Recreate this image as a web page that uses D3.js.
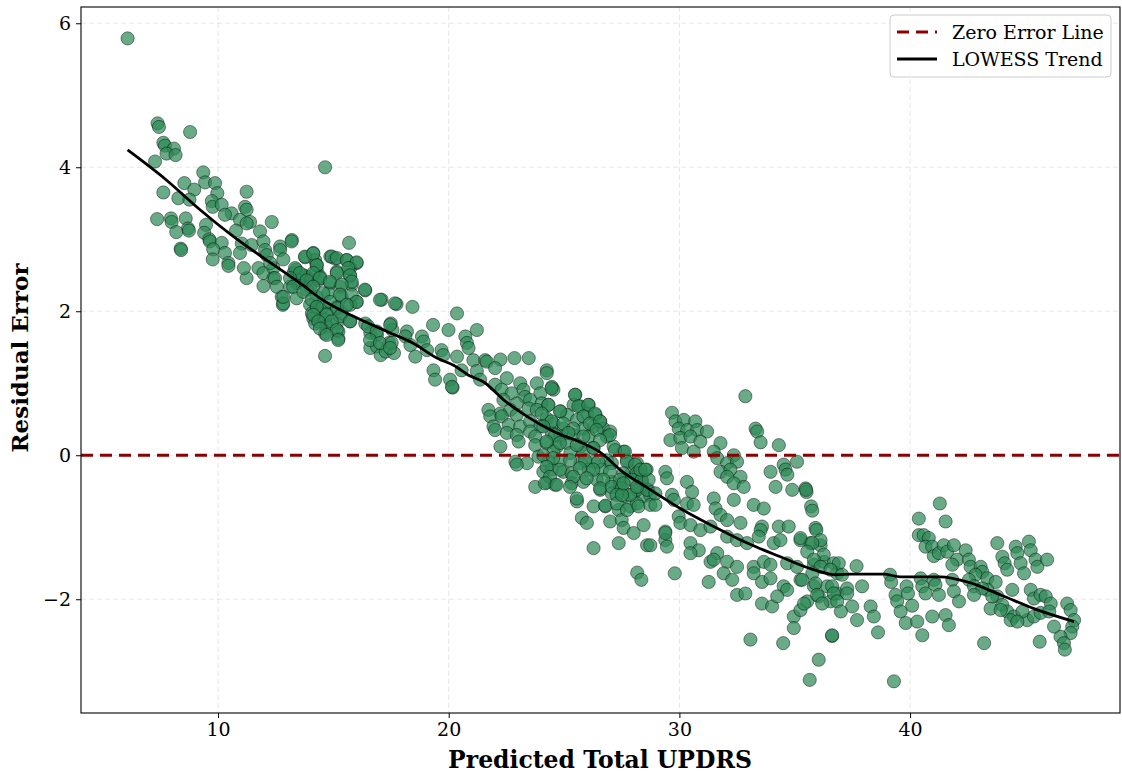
<!DOCTYPE html>
<html><head><meta charset="utf-8">
<script src="https://cdn.jsdelivr.net/npm/d3@7"></script>
<style>body{margin:0;background:#fff}svg{display:block}</style>
</head><body><svg id="c" width="1122" height="776"></svg>
<script>
const xTicks = [10, 20, 30, 40];
const yTicks = [-2, 0, 2, 4, 6];
const xLabel = "Predicted Total UPDRS";
const yLabel = "Residual Error";
const legendLabels = ["Zero Error Line", "LOWESS Trend"];

// [predicted, residual]
const points = [
[6.08,5.79],[7.38,4.61],[7.44,4.56],[8.79,4.49],[7.63,4.34],[7.70,4.30],[8.09,4.26],[7.77,4.19],[8.16,4.17],[7.27,4.08],[9.36,3.93],[9.44,3.79],[8.54,3.78],[9.87,3.78],[8.97,3.69],[7.63,3.65],[11.24,3.66],[8.28,3.57],[8.76,3.55],[9.97,3.64],[9.73,3.53],[9.77,3.45],[10.16,3.48],[11.17,3.45],[11.24,3.41],[10.59,3.36],[10.30,3.34],[10.95,3.27],[11.39,3.24],[12.33,3.24],[7.36,3.28],[7.96,3.29],[7.99,3.24],[8.60,3.29],[8.70,3.15],[8.74,3.12],[8.19,3.10],[9.48,3.20],[9.40,3.09],[10.78,3.12],[11.24,3.22],[11.82,3.11],[13.20,2.99],[9.62,3.00],[9.65,2.97],[10.16,2.95],[8.38,2.87],[8.40,2.85],[9.79,2.86],[9.77,2.72],[10.30,2.81],[10.45,2.67],[10.45,2.63],[11.03,2.94],[10.95,2.81],[11.46,2.92],[11.97,2.97],[12.04,2.85],[12.11,2.78],[12.69,2.90],[12.69,2.85],[12.83,2.72],[13.78,2.75],[11.24,2.46],[11.12,2.60],[11.75,2.60],[11.97,2.53],[11.97,2.35],[12.40,2.60],[12.40,2.46],[12.76,2.20],[12.81,2.09],[13.27,2.53],[13.41,2.39],[13.56,2.48],[13.85,2.48],[14.13,2.81],[14.21,2.71],[14.28,2.57],[13.99,2.34],[13.85,2.30],[14.28,2.06],[14.35,2.43],
[14.64,4.00],[15.68,2.95],[14.87,2.76],[15.08,2.73],[15.58,2.71],[16.01,2.67],[12.26,2.67],[14.28,2.64],[15.73,2.60],[13.38,2.58],[15.15,2.55],[13.70,2.50],[14.43,2.48],[15.73,2.49],[12.47,2.46],[13.48,2.43],[14.86,2.39],[15.80,2.37],[12.55,2.34],[13.12,2.34],[15.30,2.34],[16.38,2.29],[13.41,2.18],[14.28,2.20],[14.78,2.25],[15.36,2.20],[16.01,2.13],[12.83,2.11],[13.99,2.09],[14.57,2.06],[15.15,2.06],[15.73,2.09],[14.07,1.97],[14.70,1.97],[15.36,1.97],[14.13,1.90],[14.64,1.88],[15.73,1.86],[14.21,1.83],[15.15,1.83],[14.70,1.79],[14.64,1.69],[15.22,1.72],[15.22,1.62],[14.64,1.38],[17.09,2.16],[17.74,2.10],[18.43,2.06],[16.38,1.83],[16.60,1.70],[16.89,1.67],[17.49,1.83],[17.56,1.74],[17.41,1.56],[16.60,1.49],[16.89,1.51],[17.05,1.39],[17.27,1.44],[17.63,1.42],[18.19,1.72],[18.12,1.65],[18.34,1.53],[18.55,1.37],[18.84,1.65],[18.91,1.58],[19.06,1.46],[19.32,1.81],[19.99,1.74],[20.36,1.97],[20.72,1.65],[20.79,1.56],[21.22,1.74],[19.69,1.46],[19.76,1.39],[20.36,1.37],[19.34,1.18],[19.41,1.05],[20.06,1.05],[20.17,0.94],[20.56,1.18],[21.07,1.32],[21.22,1.17],[21.36,1.05],[21.58,1.32],
[13.19,2.97],[13.77,2.76],[14.13,2.80],[14.93,2.76],[15.15,2.74],[15.58,2.71],[16.01,2.68],[13.34,2.60],[14.28,2.64],[15.65,2.60],[13.55,2.53],[14.13,2.53],[15.15,2.53],[15.72,2.50],[13.12,2.46],[13.84,2.43],[14.42,2.46],[14.85,2.41],[15.80,2.41],[13.26,2.34],[14.13,2.34],[15.36,2.37],[16.37,2.30],[13.70,2.27],[14.56,2.25],[15.29,2.23],[15.80,2.23],[12.83,2.20],[14.06,2.16],[14.85,2.13],[16.01,2.13],[17.02,2.16],[17.67,2.11],[14.28,2.06],[15.15,2.04],[15.58,2.09],[14.13,1.95],[14.71,1.95],[15.29,1.93],[14.35,1.86],[14.93,1.86],[15.72,1.86],[14.42,1.76],[15.15,1.74],[14.71,1.67],[15.21,1.60],[16.51,1.79],[16.88,1.72],[17.46,1.81],[16.59,1.60],[17.02,1.56],[17.53,1.56],[17.46,1.49],
[20.86,1.49],[21.65,1.30],[22.24,1.33],[22.85,1.35],[23.47,1.35],[22.01,1.21],[24.25,1.18],[24.25,1.14],[20.14,0.95],[22.52,1.07],[22.01,0.98],[23.10,1.00],[23.82,1.00],[24.47,0.95],[24.54,0.91],[22.30,0.91],[22.73,0.86],[23.24,0.91],[23.31,0.81],[23.97,0.86],[25.49,0.84],[22.37,0.77],[22.95,0.72],[23.53,0.77],[24.03,0.72],[24.32,0.70],[25.41,0.70],[25.71,0.68],[26.07,0.70],[21.72,0.63],[22.24,0.58],[22.67,0.63],[23.47,0.65],[23.82,0.63],[24.85,0.61],[25.14,0.56],[26.0,0.58],[26.37,0.56],[21.80,0.54],[22.30,0.54],[22.95,0.56],[24.25,0.51],[25.56,0.49],[26.57,0.47],[21.94,0.40],[22.60,0.42],[23.10,0.40],[23.53,0.47],[23.97,0.40],[24.54,0.44],[24.97,0.37],[25.84,0.37],[26.28,0.40],[26.71,0.37],[27.0,0.33],[22.01,0.35],[22.52,0.31],[22.95,0.28],[23.53,0.33],[23.75,0.26],[24.47,0.31],[24.84,0.26],[25.41,0.28],[26.07,0.26],[26.86,0.26],[23.03,0.19],[22.24,0.12],[23.75,0.14],[24.25,0.17],[24.69,0.12],[25.12,0.17],[25.71,0.12],[26.28,0.10],[27.15,0.12],[27.58,0.05],[24.54,0.05],[25.27,0.03],[25.84,0.03],[22.89,-0.09],[23.39,-0.11],[22.95,-0.13],[23.89,-0.02],[24.32,-0.09],[24.84,-0.07],[25.71,-0.11],[26.28,-0.09],[26.86,-0.07],[27.73,-0.07],[28.16,-0.11],[24.10,-0.23],[24.47,-0.20],[24.97,-0.23],[25.33,-0.25],[26.07,-0.20],[26.64,-0.20],[27.94,-0.23],[28.23,-0.25],[23.75,-0.44],[24.25,-0.38],[24.61,-0.41],[25.33,-0.39],[25.84,-0.37],[26.42,-0.34],[27.07,-0.37],[27.43,-0.41],[28.38,-0.37],[26.57,-0.48],[27.07,-0.53],[27.58,-0.57],[28.02,-0.53],[28.45,-0.57],[25.56,-0.64],[26.28,-0.71],[26.79,-0.71],[27.37,-0.76],[27.87,-0.71],[28.16,-0.67],[25.77,-0.87],[25.99,-0.94],[27.0,-0.92],[27.50,-0.90],[27.58,-1.01],[28.02,-1.08],[28.45,-0.97],[27.37,-1.22],[26.28,-1.29],[28.60,-1.25],
[24.46,0.93],[25.47,0.84],[24.32,0.70],[24.82,0.61],[25.62,0.68],[26.05,0.70],[24.03,0.58],[25.84,0.54],[26.34,0.58],[24.46,0.47],[24.97,0.44],[26.12,0.44],[26.56,0.47],[24.10,0.40],[25.40,0.37],[26.41,0.35],[26.99,0.28],[24.61,0.28],[25.19,0.31],[25.84,0.26],[26.56,0.21],[24.24,0.19],[24.82,0.17],[25.55,0.14],[26.27,0.10],[27.21,0.07],[27.64,0.05],[24.10,0.00],[24.53,-0.04],[25.26,-0.07],[25.91,-0.07],[26.48,-0.09],[27.07,-0.11],[27.72,-0.09],[28.08,-0.13],[24.24,-0.16],[24.82,-0.20],[25.69,-0.18],[26.27,-0.20],[26.99,-0.23],[27.57,-0.25],[28.15,-0.25],[28.58,-0.20],[24.39,-0.30],[25.40,-0.30],[25.98,-0.32],[26.70,-0.34],[27.43,-0.34],[27.93,-0.34],[28.37,-0.34],[24.17,-0.39],[24.68,-0.41],[25.26,-0.44],[26.56,-0.46],[27.07,-0.44],[27.50,-0.46],[28.15,-0.48],[28.65,-0.48],[27.28,-0.55],[27.86,-0.55],[25.55,-0.60],[28.73,-0.55],
[32.86,0.82],[29.68,0.59],[29.83,0.47],[30.19,0.49],[30.69,0.47],[29.97,0.37],[30.34,0.35],[30.77,0.35],[31.20,0.33],[33.30,0.37],[33.37,0.33],[29.61,0.21],[30.04,0.24],[30.48,0.26],[30.91,0.19],[31.78,0.17],[33.52,0.18],[34.31,0.14],[30.11,0.10],[30.62,0.05],[31.49,0.05],[32.36,0.00],[31.64,-0.04],[32.07,-0.11],[32.50,-0.09],[35.10,-0.09],[34.52,-0.13],[34.60,-0.20],[34.68,-0.27],[31.78,-0.23],[32.21,-0.20],[29.39,-0.23],[29.46,-0.32],[33.95,-0.23],[32.07,-0.30],[32.65,-0.30],[32.36,-0.39],[32.79,-0.44],[34.17,-0.44],[34.89,-0.48],[35.47,-0.46],[35.51,-0.51],[30.33,-0.37],[30.55,-0.51],[29.68,-0.55],[29.76,-0.62],[31.49,-0.60],[32.36,-0.62],[33.22,-0.69],[33.66,-0.74],[35.71,-0.71],[35.76,-0.77],[30.33,-0.67],[30.62,-0.69],[31.57,-0.74],[31.78,-0.83],[29.97,-0.85],[30.04,-0.94],[30.48,-0.97],[30.91,-1.04],[31.35,-0.99],[32.07,-0.90],[32.65,-0.94],[33.58,-0.99],[33.52,-1.04],[34.31,-0.99],[34.74,-0.99],[35.90,-1.01],[29.39,-1.06],[29.39,-1.18],[29.46,-1.27],[30.48,-1.22],[30.84,-1.32],[30.48,-1.36],[31.64,-1.36],[32.07,-1.13],[32.50,-1.18],[32.93,-1.22],[33.44,-1.13],[34.09,-1.22],[34.38,-1.18],[35.25,-1.18],[35.68,-1.22],[36.12,-1.25],[31.35,-1.48],[31.49,-1.45],[32.07,-1.48],[32.50,-1.55],[33.22,-1.55],[33.66,-1.48],[33.95,-1.52],[34.67,-1.50],[35.10,-1.55],[35.83,-1.52],[36.26,-1.48],[36.69,-1.50],[36.84,-1.64],[31.27,-1.76],[31.92,-1.64],[32.29,-1.73],[33.22,-1.64],[33.58,-1.76],[33.95,-1.71],[34.52,-1.82],[34.67,-1.87],[35.25,-1.73],[35.83,-1.82],[36.41,-1.82],[36.84,-1.92],[32.50,-1.94],[32.86,-1.92],[33.58,-2.06],[34.02,-2.10],[34.24,-1.96],[34.96,-2.24],[35.25,-2.15],[34.96,-2.40],[35.54,-2.03],[36.04,-1.96],[36.55,-2.03],[33.08,-2.56],[34.50,-2.61],[36.04,-2.84],[35.65,-3.12],[36.62,-2.51],[28.74,-1.25],[28.17,-1.63],[28.35,-1.73],[29.80,-1.64],[29.39,-1.08],[26.79,-0.70],[27.29,-0.67],[27.73,-0.76],[28.23,-0.71],[28.74,-0.69],[28.96,-0.69],[28.60,-0.48],[28.96,-0.53],[27.51,-0.55],[27.58,-0.39],[28.16,-0.44],[28.67,-0.34],[28.31,-0.20],[28.52,-0.20],
[35.49,-0.48],[35.94,-1.04],[36.12,-1.18],[35.25,-1.15],[35.76,-1.22],[35.54,-1.34],[36.26,-1.38],[35.83,-1.45],[36.91,-1.50],[37.68,-1.54],[36.12,-1.55],[36.55,-1.59],[37.05,-1.66],[35.76,-1.64],[35.32,-1.73],[35.90,-1.78],[36.62,-1.82],[37.27,-1.85],[37.92,-1.82],[35.97,-1.94],[36.69,-1.92],[37.27,-1.92],[35.40,-2.06],[36.19,-2.06],[36.84,-2.03],[37.49,-2.10],[37.0,-2.17],[38.29,-2.10],[38.43,-2.24],[37.70,-2.29],[38.61,-2.46],[36.62,-2.50],[39.30,-3.14],[39.13,-1.66],[39.18,-1.76],[39.85,-1.82],[39.37,-1.94],[39.91,-1.92],[39.44,-2.03],[40.09,-2.09],[39.59,-2.17],[39.81,-2.33],[40.31,-2.31],[40.53,-2.50],[40.38,-0.88],[41.29,-0.67],[41.54,-0.92],[40.38,-1.11],[40.59,-1.11],[40.81,-1.15],[40.67,-1.27],[40.96,-1.27],[41.03,-1.40],[41.25,-1.36],[41.46,-1.25],[41.61,-1.34],[41.90,-1.25],[42.04,-1.45],[41.83,-1.52],[42.41,-1.32],[42.55,-1.45],[42.62,-1.55],[43.06,-1.55],[43.13,-1.62],[42.84,-1.66],[43.35,-1.71],[43.71,-1.76],[40.46,-1.71],[40.53,-1.82],[40.67,-1.92],[41.03,-1.73],[41.10,-1.80],[41.25,-1.94],[41.83,-1.73],[41.90,-1.89],[42.12,-2.03],[41.54,-2.22],[41.68,-2.36],[40.96,-2.24],[42.55,-1.73],[42.77,-1.82],[43.35,-1.87],[43.49,-2.13],[43.78,-1.96],[44.0,-2.08],[44.21,-2.17],[44.50,-2.24],[44.43,-1.87],[43.78,-1.22],[44.0,-1.41],[44.10,-1.50],[44.21,-1.59],[44.58,-1.27],[44.65,-1.36],[44.79,-1.50],[44.94,-1.64],[45.15,-1.20],[45.23,-1.32],[45.44,-1.45],[45.52,-1.55],[45.94,-1.45],[45.23,-1.87],[45.37,-1.99],[45.66,-1.94],[45.88,-1.96],[46.10,-2.06],[46.81,-2.06],[46.96,-2.15],[47.11,-2.29],[47.03,-2.38],[46.96,-2.47],[46.52,-2.52],[46.67,-2.61],[46.71,-2.70],[46.24,-2.38],[45.62,-2.59],[43.21,-2.61],[45.08,-2.29],[45.37,-2.24],[44.87,-2.17],[45.66,-2.19],[46.03,-2.17],[43.93,-2.15],[44.36,-2.29],[44.65,-2.31],[43.13,-1.85],[43.56,-1.96],[42.77,-1.94]
];

// LOWESS trend
const trend = [
[6.08,4.24],[7.77,3.82],[9.22,3.41],[10.66,3.04],[12.11,2.71],[13.56,2.39],[14.43,2.18],[15.87,1.93],[17.32,1.72],[18.5,1.55],[19.49,1.35],[20.21,1.25],[20.93,1.10],[21.5,1.02],[22.38,0.77],[23.39,0.54],[24.55,0.33],[25.8,0.17],[26.57,0.04],[27.5,-0.22],[28.6,-0.45],[30.04,-0.74],[31.49,-0.99],[32.94,-1.22],[34.38,-1.41],[35.83,-1.59],[36.8,-1.66],[37.42,-1.65],[38.86,-1.65],[39.59,-1.69],[41.32,-1.69],[42.48,-1.76],[43.93,-1.94],[45.37,-2.13],[47.11,-2.31]
];

const svg = d3.select("#c");
const L = 81, R = 1120, T = 7, B = 713;
const x = d3.scaleLinear().domain([4.06, 49.10]).range([L, R]);
const y = d3.scaleLinear().domain([-3.58, 6.226]).range([B, T]);
const font = "'DejaVu Serif', serif";

// grid
const g = svg.append("g");
g.selectAll(".gx").data(xTicks).join("line")
  .attr("x1", d => x(d)).attr("x2", d => x(d)).attr("y1", T).attr("y2", B)
  .attr("stroke", "#b0b0b0").attr("stroke-opacity", 0.35).attr("stroke-width", 0.9).attr("stroke-dasharray", "5,3");
g.selectAll(".gy").data(yTicks).join("line")
  .attr("y1", d => y(d)).attr("y2", d => y(d)).attr("x1", L).attr("x2", R)
  .attr("stroke", "#b0b0b0").attr("stroke-opacity", 0.35).attr("stroke-width", 0.9).attr("stroke-dasharray", "5,3");

// points
svg.append("g").selectAll("circle").data(points).join("circle")
  .attr("cx", d => x(d[0])).attr("cy", d => y(d[1])).attr("r", 6.6)
  .attr("fill", "#2e8b57").attr("fill-opacity", 0.72)
  .attr("stroke", "#000").attr("stroke-opacity", 0.72).attr("stroke-width", 0.6);

// zero line
svg.append("line").attr("x1", L).attr("x2", R).attr("y1", y(0)).attr("y2", y(0))
  .attr("stroke", "#8b0000").attr("stroke-width", 3).attr("stroke-dasharray", "12,7");

// lowess
svg.append("path").datum(trend)
  .attr("d", d3.line().x(d => x(d[0])).y(d => y(d[1])).curve(d3.curveMonotoneX))
  .attr("fill", "none").attr("stroke", "#000").attr("stroke-width", 2.8);

// axes
const xAxis = svg.append("g").attr("transform", `translate(0,${B})`)
  .call(d3.axisBottom(x).tickValues(xTicks).tickSize(5).tickPadding(5).tickFormat(d3.format("d")));
const yAxis = svg.append("g").attr("transform", `translate(${L},0)`)
  .call(d3.axisLeft(y).tickValues(yTicks).tickSize(5).tickPadding(5).tickFormat(d => d < 0 ? "\u2212" + Math.abs(d) : d));
[xAxis, yAxis].forEach(a => {
  a.select(".domain").remove();
  a.selectAll("text").attr("font-family", font).attr("font-size", 19).attr("fill", "#000");
  a.selectAll("line").attr("stroke", "#000").attr("stroke-width", 1);
});

// frame
svg.append("rect").attr("x", L).attr("y", T).attr("width", R - L).attr("height", B - T)
  .attr("fill", "none").attr("stroke", "#000").attr("stroke-width", 1.1);

// titles
svg.append("text").attr("x", 600).attr("y", 768).attr("text-anchor", "middle")
  .attr("font-family", font).attr("font-weight", "bold").attr("font-size", 23.5).text(xLabel);
svg.append("text").attr("transform", `translate(28,358) rotate(-90)`).attr("text-anchor", "middle")
  .attr("font-family", font).attr("font-weight", "bold").attr("font-size", 23).text(yLabel);

// legend
const lg = svg.append("g");
lg.append("rect").attr("x", 890).attr("y", 15).attr("width", 221).attr("height", 62).attr("rx", 4)
  .attr("fill", "#fff").attr("fill-opacity", 0.8).attr("stroke", "#cccccc").attr("stroke-width", 1);
const styles = [{c: "#8b0000", dash: "12,7", w: 3}, {c: "#000", dash: null, w: 2.8}];
legendLabels.forEach((lab, i) => {
  const yy = 32 + i * 27;
  lg.append("line").attr("x1", 897).attr("x2", 937).attr("y1", yy).attr("y2", yy)
    .attr("stroke", styles[i].c).attr("stroke-width", styles[i].w).attr("stroke-dasharray", styles[i].dash);
  lg.append("text").attr("x", 952).attr("y", yy).attr("dy", "0.35em")
    .attr("font-family", font).attr("font-size", 19).text(lab);
});
</script></body></html>
